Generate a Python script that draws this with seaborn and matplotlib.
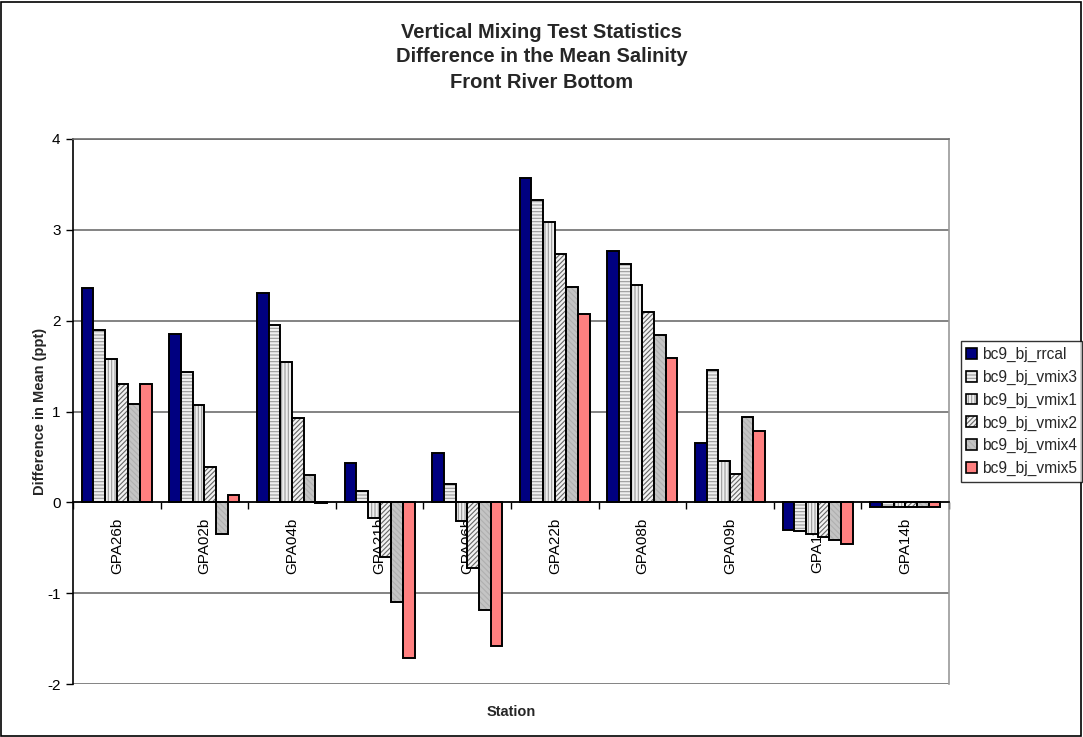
import matplotlib
matplotlib.use("Agg")
import matplotlib.pyplot as plt
from matplotlib.patches import Rectangle
from matplotlib.legend_handler import HandlerTuple
import pandas as pd
import seaborn as sns

# Stations along the category axis
stations = ["GPA26b", "GPA02b", "GPA04b", "GPA21b", "GPA06b",
            "GPA22b", "GPA08b", "GPA09b", "GPA11b", "GPA14b"]

# Model runs (series)
runs = ["bc9_bj_rrcal", "bc9_bj_vmix3", "bc9_bj_vmix1",
        "bc9_bj_vmix2", "bc9_bj_vmix4", "bc9_bj_vmix5"]

# Difference in mean salinity (ppt) for each run
rrcal = [2.36, 1.85, 2.30, 0.43, 0.545, 3.57, 2.77, 0.65, -0.30, -0.05]
vmix3 = [1.90, 1.43, 1.95, 0.13, 0.20, 3.33, 2.62, 1.46, -0.32, -0.05]
vmix1 = [1.58, 1.07, 1.55, -0.17, -0.20, 3.09, 2.39, 0.46, -0.35, -0.05]
vmix2 = [1.30, 0.39, 0.93, -0.60, -0.72, 2.73, 2.10, 0.31, -0.38, -0.05]
vmix4 = [1.08, -0.35, 0.30, -1.10, -1.18, 2.37, 1.84, 0.94, -0.42, -0.05]
vmix5 = [1.30, 0.08, -0.01, -1.71, -1.58, 2.07, 1.59, 0.78, -0.46, -0.05]

y_ticks = [-2, -1, 0, 1, 2, 3, 4]

# Fill style per run: face colour, hatch pattern, hatch colour
styles = {
    "bc9_bj_rrcal": ("#000080", None, None),
    "bc9_bj_vmix3": ("#efefef", "-----", "#9a9a9a"),
    "bc9_bj_vmix1": ("#efefef", "|||||", "#9a9a9a"),
    "bc9_bj_vmix2": ("#f2f2f2", "///////", "#666666"),
    "bc9_bj_vmix4": ("#c4c4c4", "\\\\\\\\\\\\", "#b0b0b0"),
    "bc9_bj_vmix5": ("#ff8080", None, None),
}

values = [rrcal, vmix3, vmix1, vmix2, vmix4, vmix5]
df = pd.DataFrame([
    {"station": s, "run": r, "diff": v}
    for r, vals in zip(runs, values)
    for s, v in zip(stations, vals)
])

sns.set_theme(style="white")
plt.rcParams["font.family"] = ["Liberation Sans", "DejaVu Sans"]
plt.rcParams["hatch.linewidth"] = 0.8

fig = plt.figure(figsize=(10.83, 7.37), dpi=100)

ax = fig.add_axes([73 / 1083, 53 / 737, 876 / 1083, 545 / 737])
ax.set_facecolor("white")

palette = {r: styles[r][0] for r in runs}
sns.barplot(data=df, x="station", y="diff", hue="run", order=stations,
            hue_order=runs, palette=palette, errorbar=None, width=0.8,
            saturation=1, legend=False, ax=ax)

for cont, run in zip(ax.containers, runs):
    face, hatch, hc = styles[run]
    for p in cont:
        if hatch:
            p.set_hatch(hatch)
            p.set_edgecolor(hc)
            p.set_linewidth(0)
            ax.add_patch(Rectangle(p.get_xy(), p.get_width(), p.get_height(),
                                   fill=False, ec="black", lw=1.4, zorder=3))
        else:
            p.set_edgecolor("black")
            p.set_linewidth(1.4)

ax.set_ylim(-2, 4)
ax.set_xlim(-0.5, len(stations) - 0.5)
ax.set_yticks(y_ticks)
ax.set_yticklabels([str(t) for t in y_ticks])
ax.yaxis.grid(True, color="#6e6e6e", lw=1.2)
ax.set_axisbelow(True)

ax.spines["bottom"].set_position(("data", 0))
ax.spines["bottom"].set_color("black")
ax.spines["left"].set_color("black")
ax.spines["top"].set_color("#6e6e6e")
ax.spines["right"].set_color("#9a9a9a")
for s in ax.spines.values():
    s.set_linewidth(1.2)

ax.set_xticks(range(len(stations)))
ax.set_xticklabels(stations, rotation=90)
ax.set_xticks([i + 0.5 for i in range(-1, len(stations))], minor=True)
ax.tick_params(axis="x", which="major", length=0, pad=11, labelsize=11,
               colors="black")
ax.tick_params(axis="x", which="minor", length=5, width=1, direction="out",
               bottom=True, color="black")
ax.tick_params(axis="y", length=5, width=1, direction="out", left=True,
               labelsize=11, colors="black", pad=4)

ax.set_xlabel("Station", fontsize=10.5, fontweight="bold")
ax.xaxis.label.set_verticalalignment("center")
ax.xaxis.set_label_coords(0.5, (25 - 53) / 545)
ax.set_ylabel("Difference in Mean (ppt)", fontsize=10.5, fontweight="bold")
ax.yaxis.set_label_coords((47 - 73) / 876, 0.5)

title_lines = ["Vertical Mixing Test Statistics",
               "Difference in the Mean Salinity",
               "Front River Bottom"]
for line, ypx in zip(title_lines, [33, 57, 82]):
    fig.text(0.5, 1 - ypx / 737, line, ha="center", va="center",
             fontsize=14.5, fontweight="bold")

handles = []
for run in runs:
    face, hatch, hc = styles[run]
    if hatch:
        fill = Rectangle((0, 0), 1, 1, fc=face, hatch=hatch, ec=hc, lw=0)
        edge = Rectangle((0, 0), 1, 1, fill=False, ec="black", lw=1.2)
        handles.append((fill, edge))
    else:
        handles.append(Rectangle((0, 0), 1, 1, fc=face, ec="black", lw=1.2))

leg = fig.legend(handles, runs, loc="center left",
                 bbox_to_anchor=(961 / 1083, 1 - 411.5 / 737),
                 handler_map={tuple: HandlerTuple(ndivide=1)},
                 frameon=True, fancybox=False, shadow=False,
                 fontsize=11.2, handlelength=0.7, handleheight=0.7,
                 handletextpad=0.3, labelspacing=0.5, borderpad=0.35,
                 borderaxespad=0)
leg.get_frame().set_edgecolor("black")
leg.get_frame().set_linewidth(1.0)

# Border around the whole chart
fig.add_artist(Rectangle((0.001, 0.0015), 0.997, 0.996,
                         transform=fig.transFigure, fill=False,
                         ec="black", lw=1.2))

fig.savefig("out.png", dpi=100)
